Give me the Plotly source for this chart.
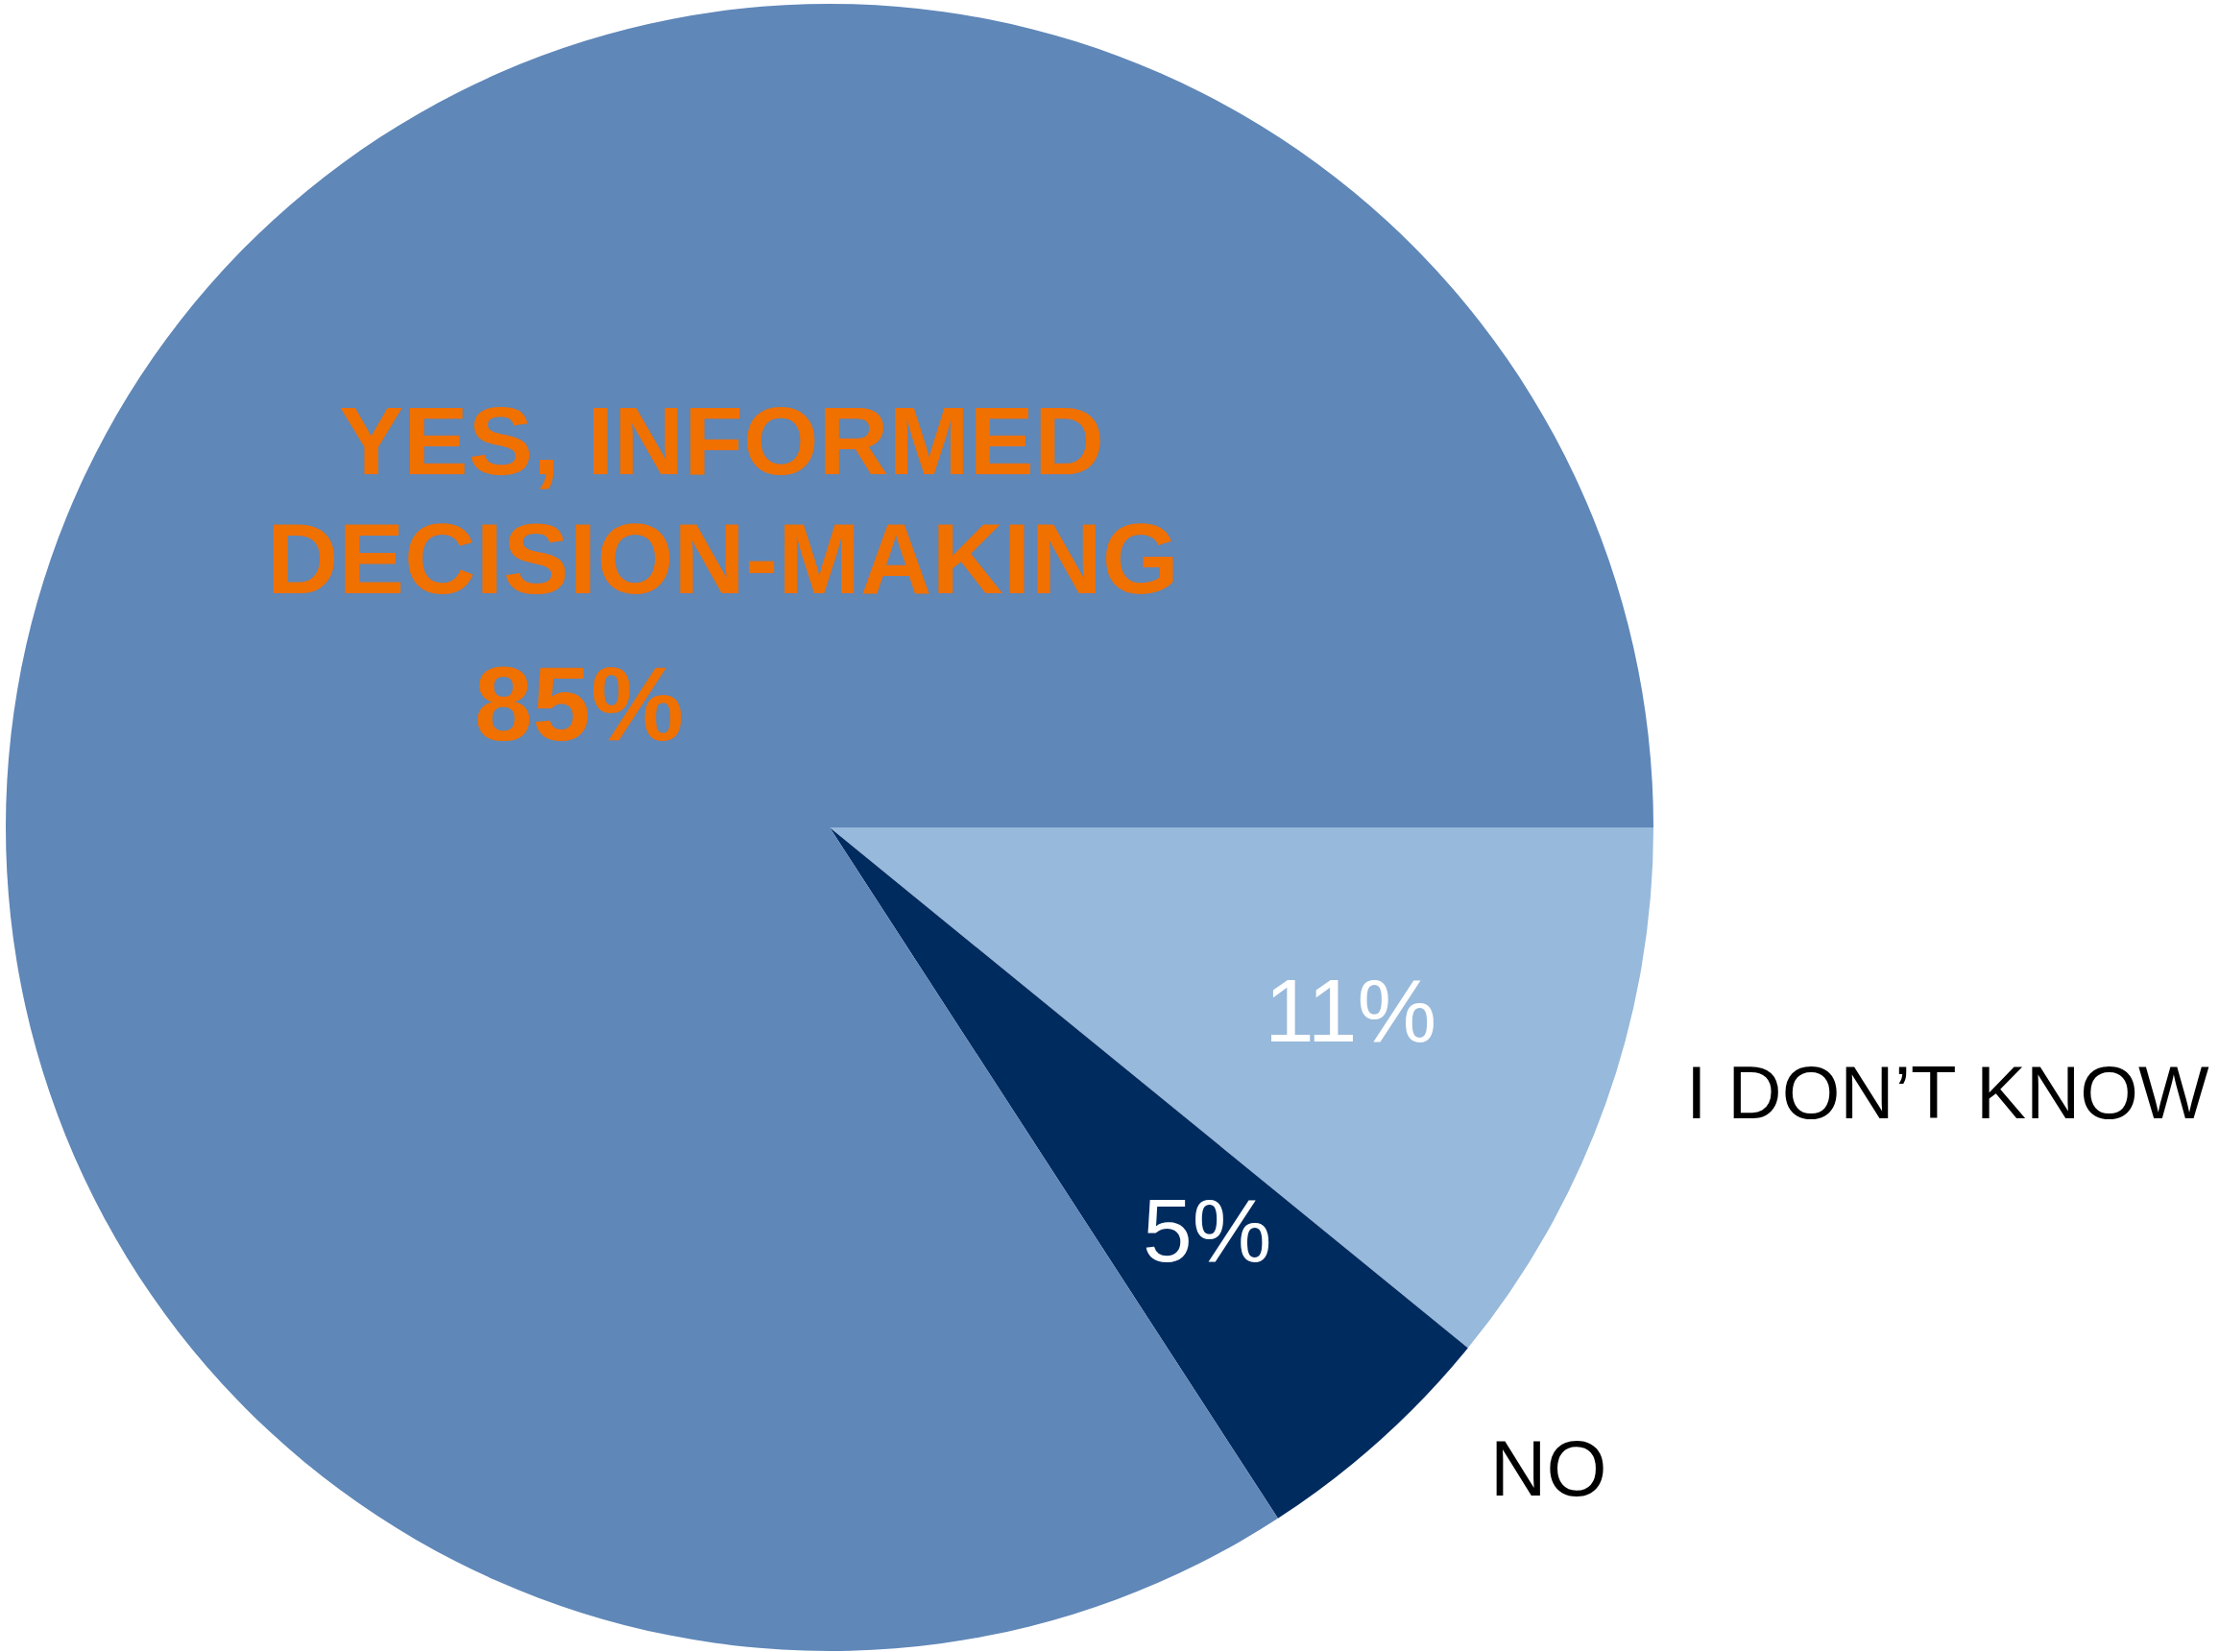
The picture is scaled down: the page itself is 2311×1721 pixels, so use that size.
import plotly.graph_objects as go

# Survey answers, listed clockwise from 3 o'clock
labels = ["I DON’T KNOW", "NO", "YES, INFORMED DECISION-MAKING"]
values = [11, 5, 85]
slice_colors = ["#97B9DB", "#002B5F", "#5F87B8"]

W, H = 2311, 1721
FONT = "Liberation Sans, Arial, Helvetica, sans-serif"


def px(x, y):
    """Convert pixel position (from top-left) to paper coordinates."""
    return x / W, 1 - y / H


fig = go.Figure(
    go.Pie(
        labels=labels,
        values=values,
        sort=False,
        direction="clockwise",
        rotation=90,
        marker=dict(colors=slice_colors, line=dict(width=0)),
        textinfo="none",
        hoverinfo="label+value",
        showlegend=False,
        domain=dict(x=[6 / W, 1722 / W], y=[1 / H, 1717 / H]),
    )
)

annotations = []


def add_text(text, x, y, size, color, bold=False, anchor="center"):
    xp, yp = px(x, y)
    annotations.append(
        dict(
            text=f"<b>{text}</b>" if bold else text,
            x=xp,
            y=yp,
            xref="paper",
            yref="paper",
            xanchor=anchor,
            yanchor="middle",
            showarrow=False,
            font=dict(family=FONT, size=size, color=color),
        )
    )


orange = "#F07000"
yes_lines = ["YES, INFORMED", "DECISION-MAKING"]
add_text(yes_lines[0], 751, 459, 101, orange, bold=True)
add_text(yes_lines[1], 753, 582, 103, orange, bold=True)
add_text(f"{values[2]}%", 603, 733, 109, orange, bold=True)

add_text(f"{values[0]}%", 1406, 1053, 93, "white")
add_text(f"{values[1]}%", 1257, 1282, 93, "white")

add_text(labels[0], 1754, 1138, 78, "black", anchor="left")
add_text(labels[1], 1613, 1530, 81, "black")

fig.update_layout(
    width=W,
    height=H,
    margin=dict(l=0, r=0, t=0, b=0),
    paper_bgcolor="white",
    plot_bgcolor="white",
    annotations=annotations,
)

fig.write_html("out.html")
